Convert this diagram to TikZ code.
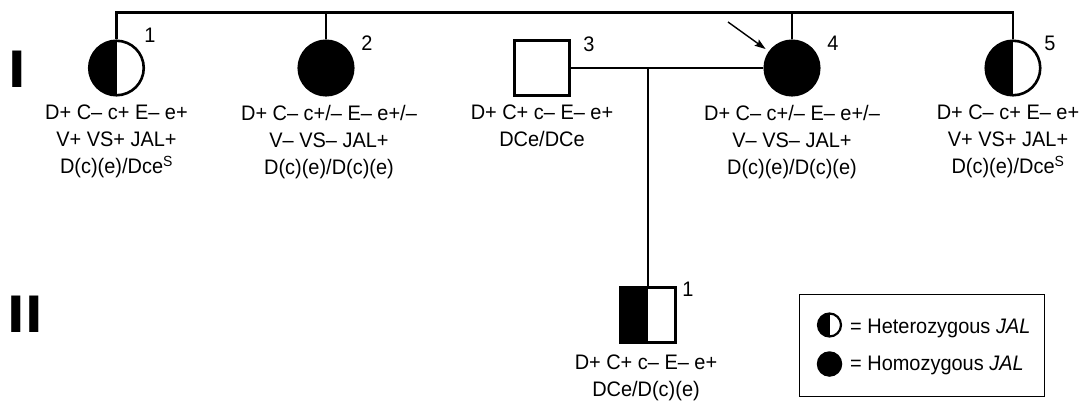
\documentclass[tikz,border=0pt]{standalone}
\usepackage{fontspec}
\setmainfont{Liberation Sans}[FakeStretch=0.95]
\usetikzlibrary{arrows.meta}
\begin{document}
\begin{tikzpicture}[x=1pt,y=-1pt,
  lw/.style={line width=2.6pt},
  fem/.style={circle, draw, lw, minimum size=54.5pt, inner sep=0pt},
  mal/.style={rectangle, draw, lw, minimum size=54.5pt, inner sep=0pt},
  affected/.style={fill=black},
  het/.style={path picture={\fill[black] (path picture bounding box.south) rectangle (path picture bounding box.north west);}},
  info/.style={anchor=north, align=center, inner sep=0pt, font=\fontsize{21}{27}\selectfont},
  num/.style={inner sep=0pt, font=\fontsize{21}{24}\selectfont},
  gen/.style={inner sep=0pt, font=\fontsize{53}{53}\selectfont\bfseries},
  conn/.style={lw},
]
\useasboundingbox (0,0) rectangle (1088,410);

% generation numerals
\node[gen] (g1) at (17.5,69) {\scalebox{1.25}[1]{I}};
\node[gen] (g2) at (25,314) {\scalebox{1.25}[1]{II}};

% individuals
\node[fem,het] (p1) at (116.5,68) {};
\node[fem,affected] (p2) at (326,68) {};
\node[mal] (p3) at (542,68) {};
\node[fem,affected] (p4) at (792,68) {};
\node[fem,het] (p5) at (1013,68) {};
\node[mal,het] (c1) at (648,315) {};

% sibship line
\coordinate (top5) at (1013,12.5);
\draw[conn] (p1.north) |- (top5) -- (p5.north);
\draw[conn] (p2.north) -- (p2.north |- top5);
\draw[conn] (p4.north) -- (p4.north |- top5);

% mating and descent
\draw[conn] (p3.east) -- (p4.west);
\draw[conn] (c1.north |- p3.east) -- (c1.north);

% proband arrow
\coordinate (arrowtail) at (728,22);
\draw[line width=1.4pt, -{Stealth[length=11pt,width=7.5pt,inset=2pt]}, shorten >=4pt] (arrowtail) -- (p4);

% numbers
\node[num] (n1) at (150,35) {1};
\node[num] (n2) at (367,43) {2};
\node[num] (n3) at (589,44) {3};
\node[num] (n4) at (833,43) {4};
\node[num] (n5) at (1050,43) {5};
\node[num] (nc) at (688,289) {1};

% phenotypes / genotypes
\node[info] (i1) at (116.5,105) {D+ C– c+ E– e+\\V+ VS+ JAL+\\D(c)(e)/Dce\textsuperscript{S}};
\node[info] (i2) at (329,105) {D+ C– c+/– E– e+/–\\V– VS– JAL+\\D(c)(e)/D(c)(e)};
\node[info] (i3) at (542,105) {D+ C+ c– E– e+\\DCe/DCe};
\node[info] (i4) at (792,105) {D+ C– c+/– E– e+/–\\V– VS– JAL+\\D(c)(e)/D(c)(e)};
\node[info] (i5) at (1008,105) {D+ C– c+ E– e+\\V+ VS+ JAL+\\D(c)(e)/Dce\textsuperscript{S}};
\node[info] (ic) at (646,355) {D+ C+ c– E– e+\\DCe/D(c)(e)};

% legend
\node[draw, line width=1.3pt, minimum width=245pt, minimum height=102pt, inner sep=0pt] (leg) at (922,345.5) {};
\node[circle, draw, line width=2.2pt, minimum size=23pt, inner sep=0pt, het] (lh) at (829.5,325) {};
\node[circle, fill=black, minimum size=25.5pt, inner sep=0pt] (lf) at (829.5,364) {};
\node[num, anchor=base west] (lt1) at (850,333) {= Heterozygous \textit{JAL}};
\node[num, anchor=base west] (lt2) at (850,370) {= Homozygous \textit{JAL}};
\end{tikzpicture}
\end{document}
